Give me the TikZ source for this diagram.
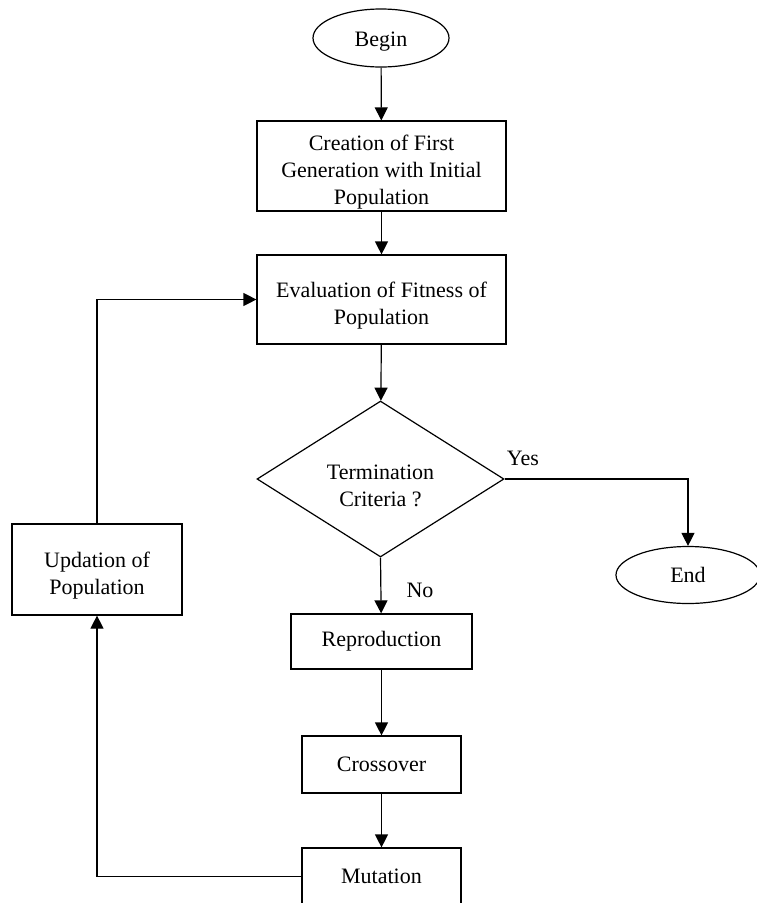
\documentclass[tikz,border=0pt]{standalone}
\usepackage{fontspec}
\setmainfont{Liberation Serif}
\usetikzlibrary{shapes.geometric,arrows.meta}
\newcommand{\topgap}{\rule{0pt}{28pt}}
\begin{document}
\begin{tikzpicture}[x=1pt,y=-1pt,
  every node/.style={font=\fontsize{22}{26.7}\selectfont, align=center, line width=1.2pt},
  procbox/.style={draw, rectangle, inner sep=0pt},
  term/.style={draw, ellipse, inner sep=0pt},
  decide/.style={draw, diamond, inner sep=0pt, aspect=1.6},
  flow/.style={line width=1.2pt, -{Triangle[width=13pt,length=13pt]}},
  lbl/.style={inner sep=0pt}]
\useasboundingbox (0,0) rectangle (756,903);
\node[term, minimum width=136pt, minimum height=58pt] (begin) at (381,38) {\rule{0pt}{22pt}Begin};
\node[procbox, minimum width=249pt, minimum height=90pt] (create) at (381.5,166) {\topgap Creation of First\\Generation with Initial\\Population};
\node[procbox, minimum width=249pt, minimum height=89pt] (eval) at (381.5,299.5) {\topgap Evaluation of Fitness of\\Population};
\node[decide, minimum width=247pt, minimum height=156pt] (crit) at (380.5,479) {\topgap Termination\\Criteria ?};
\node[term, minimum width=144pt, minimum height=57pt] (end) at (688,575) {End};
\node[procbox, minimum width=170pt, minimum height=91pt] (upd) at (97,569.5) {\topgap Updation of\\Population};
\node[procbox, minimum width=181pt, minimum height=55pt] (repro) at (381.5,641.5) {Reproduction};
\node[procbox, minimum width=159pt, minimum height=57pt] (cross) at (381.5,764.5) {Crossover};
\node[procbox, minimum width=159pt, minimum height=57pt] (mut) at (381.5,876.5) {Mutation};
\node[lbl] (yes) at (523,458) {Yes};
\node[lbl] (no) at (420,590) {No};
\draw[flow] (begin) -- (create);
\draw[flow] (create) -- (eval);
\draw[flow] (eval) -- (crit);
\draw[flow] (crit.south) -- (repro);
\draw[flow] (repro) -- (cross);
\draw[flow] (cross) -- (mut);
\draw[flow] (crit.east) -| (end.north);
\draw[flow] (mut.west) -| (upd.south);
\draw[flow] (upd.north) |- (eval.west);
\end{tikzpicture}
\end{document}
